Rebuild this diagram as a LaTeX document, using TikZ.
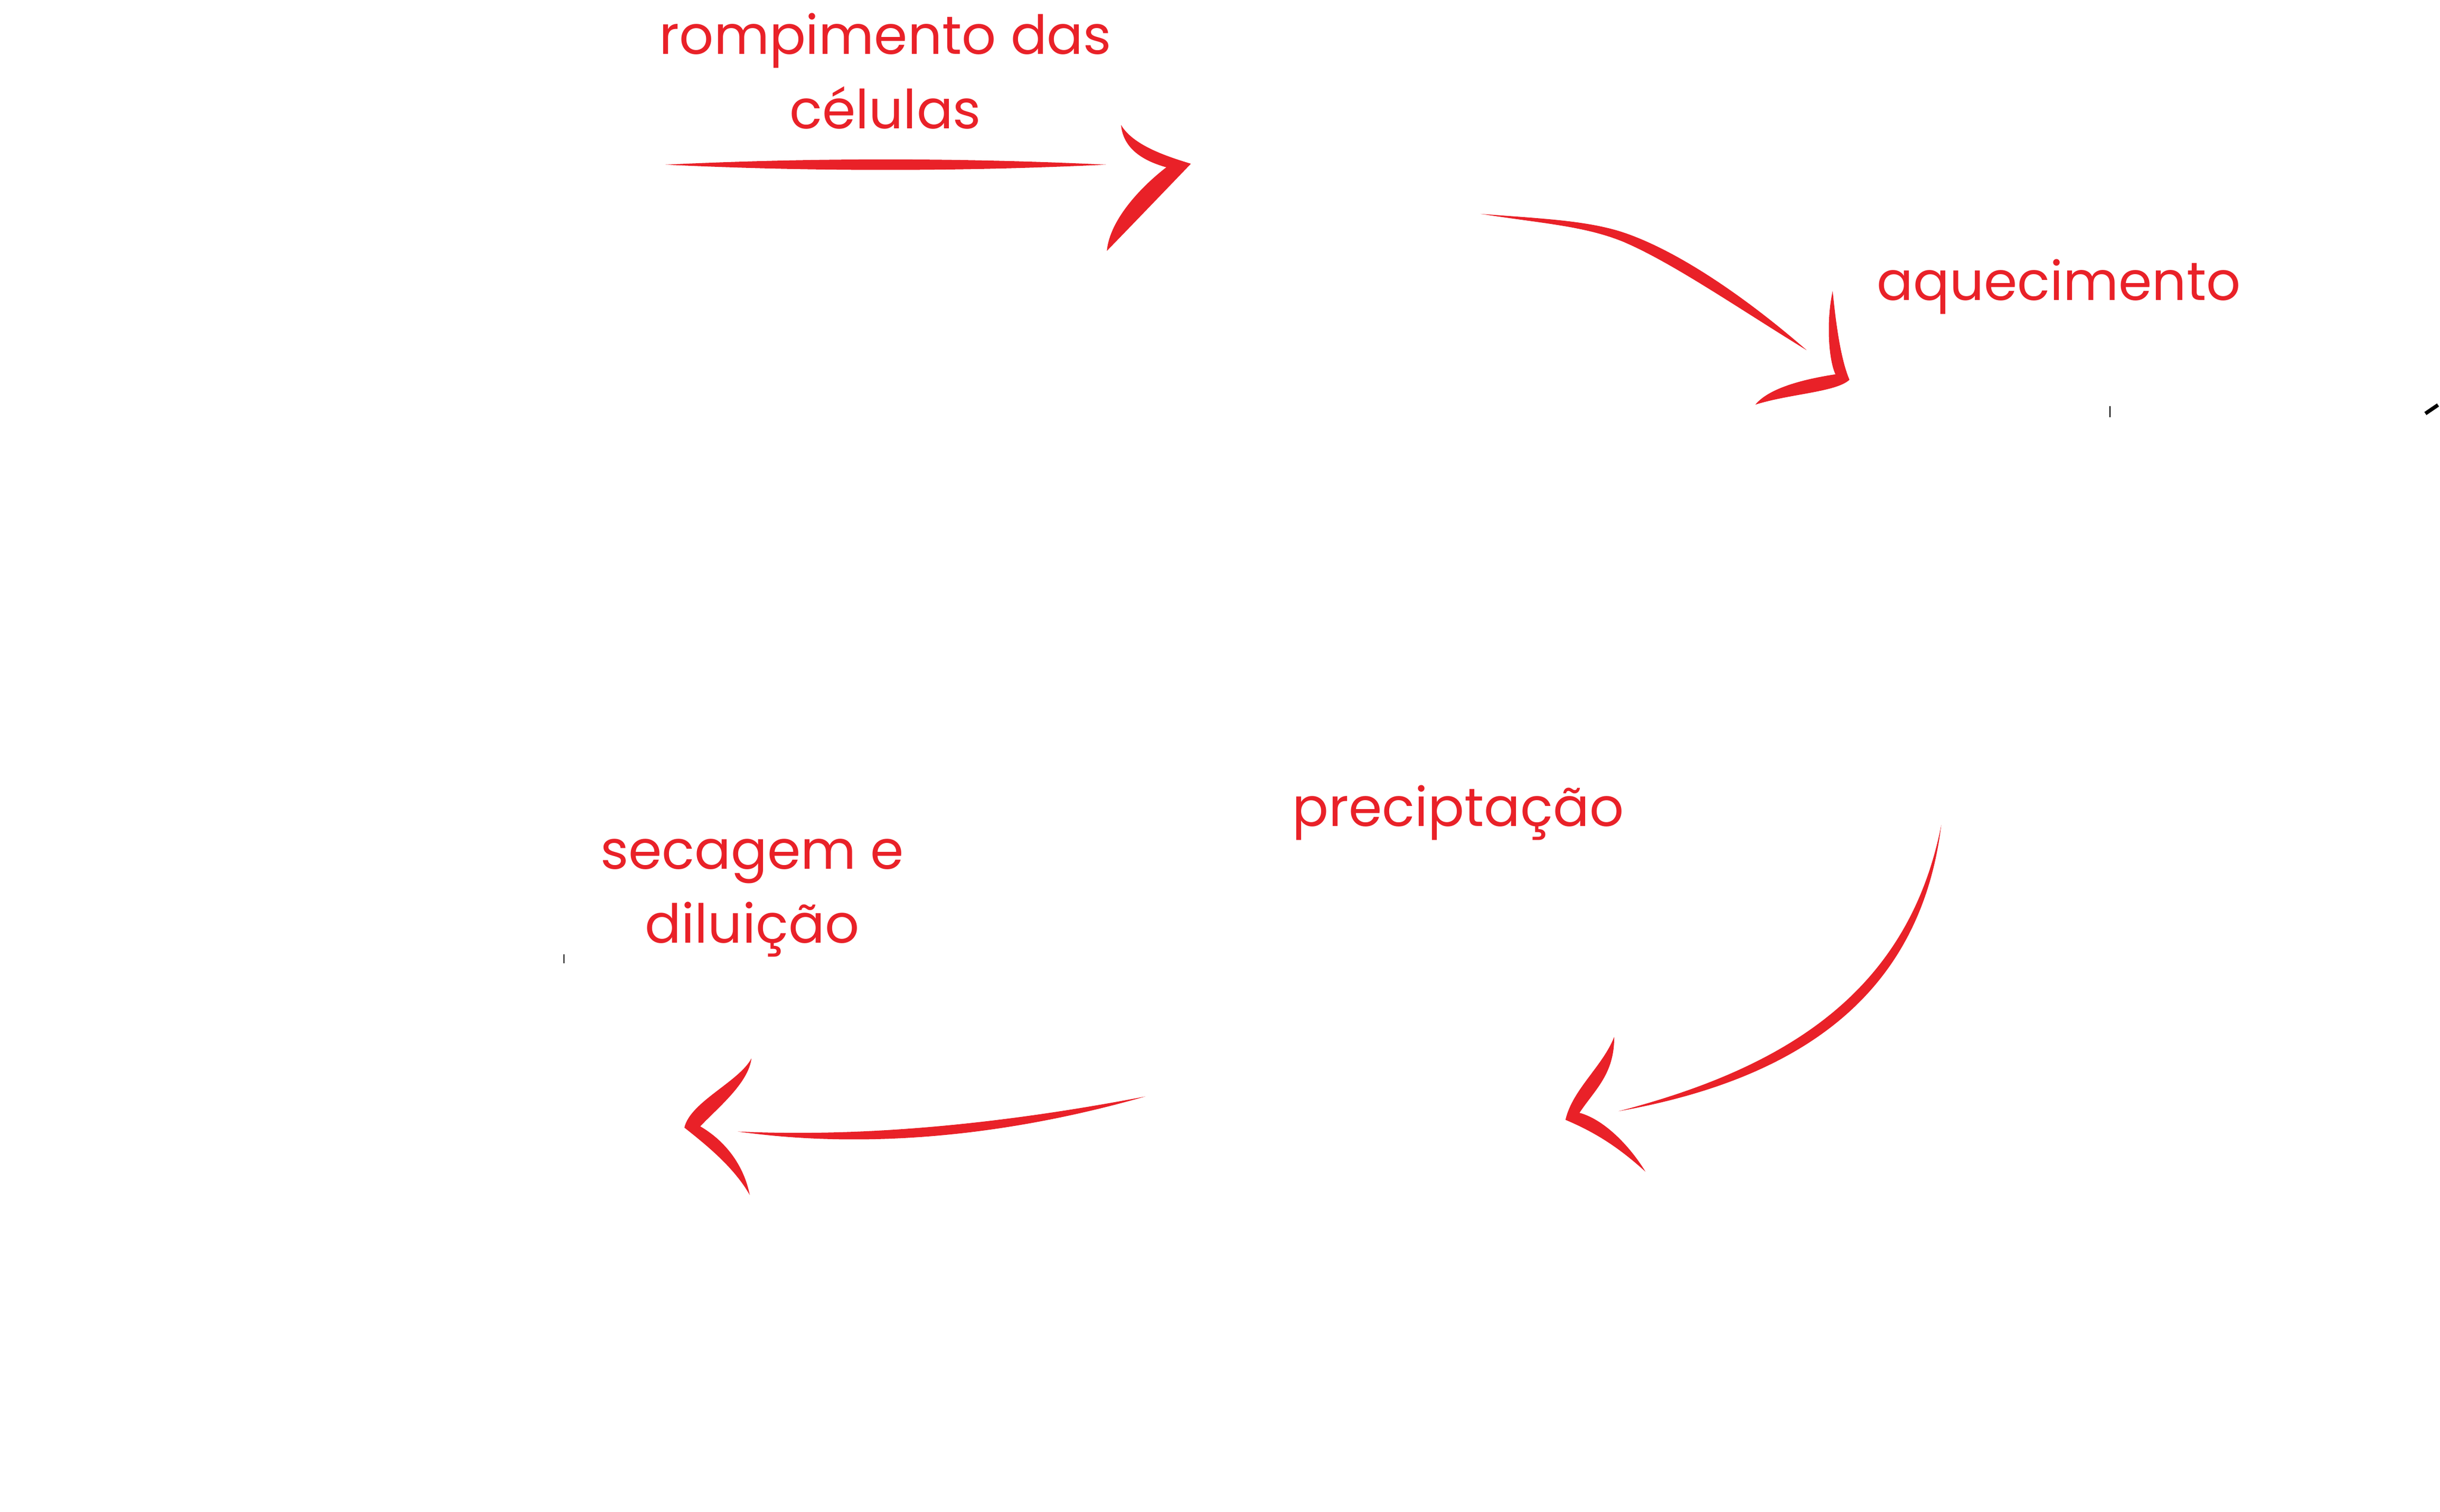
\documentclass[tikz,border=0pt]{standalone}
\usepackage{fontspec}
\setmainfont{Poppins}
\usetikzlibrary{positioning}
\definecolor{vermelho}{RGB}{233,33,40}
\tikzset{
  rotulo/.style={text=vermelho,font=\fontsize{29}{40}\selectfont,align=center,inner sep=0pt,anchor=base},
  seta/.style={fill=vermelho},
  risco/.style={draw=black,line width=0.6pt}
}

\begin{document}
\begin{tikzpicture}[x=0.02947cm,y=-0.02947cm]
           \useasboundingbox (0,0) rectangle (1568,971.2);
           % rotulos (base = ultima linha)
           \node[rotulo] (rompimento)   at (569,82.6)  {rompimento das\\células};
           \node[rotulo] (aquecimento)  at (1323,192.9) {aquecimento};
           \node[rotulo] (precipitacao) at (937,531)   {preciptação};
           \node[rotulo] (secagem)      at (483.4,606) {secagem e\\diluição};
           % pontas das setas
           \coordinate (s1_ini) at (427.6,105.8);
           \coordinate (s1_fim) at (710.8,105.8);
           \coordinate (p1)     at (765.3,105.2);
           \coordinate (s2_ini) at (951.5,137.4);
           \coordinate (s2_fim) at (1161,225);
           \coordinate (p2)     at (1188.5,244);
           \coordinate (s3_ini) at (1247.5,530);
           \coordinate (s3_fim) at (1040,714);
           \coordinate (p3)     at (1006,719.5);
           \coordinate (s4_ini) at (736,704.5);
           \coordinate (s4_fim) at (474,727);
           \coordinate (p4)     at (439.8,724.5);
           % seta 1
           \fill[seta] (s1_ini) .. controls (522,101.3) and (616,101.3) .. (s1_fim)
                       .. controls (616,110.3) and (522,110.3) .. (s1_ini);
           \fill[seta] (720.4,80.3) .. controls (728,93) and (748,100) .. (p1)
                       .. controls (753,118) and (729,143) .. (711.3,161.2)
                       .. controls (713,142) and (732,121) .. (749.5,107.5)
                       .. controls (739,104.5) and (722,98) .. cycle;
           % seta 2
           \fill[seta] (s2_ini) .. controls (990,140.5) and (1022,141.5) .. (1046.5,150.5)
                       .. controls (1081,163) and (1123,192) .. (s2_fim)
                       .. controls (1117,198) and (1075,169) .. (1043.5,155.5)
                       .. controls (1018,145) and (990,143.5) .. (s2_ini);
           \fill[seta] (1177.7,187) .. controls (1179.5,205) and (1182.5,230) .. (p2)
                       .. controls (1180,252) and (1150,253) .. (1128,260)
                       .. controls (1137,249) and (1160,243.5) .. (1179.5,240.5)
                       .. controls (1175,231) and (1173.5,206) .. cycle;
           % seta 3
           \fill[seta] (s3_ini) .. controls (1233.6,642.75) and (1152.1,694) .. (s3_fim)
                       .. controls (1147.9,686) and (1226.4,637.25) .. (s3_ini);
           \fill[seta] (1037.3,666.2) .. controls (1030,685) and (1010.5,700) .. (p3)
                       .. controls (1025,727.5) and (1040,737) .. (1057.4,752.8)
                       .. controls (1046.5,735) and (1030,719) .. (1015,715)
                       .. controls (1025,700) and (1037.5,690) .. cycle;
           % seta 4
           \fill[seta] (s4_ini) .. controls (650,721) and (560,731) .. (s4_fim)
                       .. controls (560,739) and (650,729) .. (s4_ini);
           \fill[seta] (482.9,680) .. controls (475,695) and (443.5,708) .. (p4)
                       .. controls (455,736.5) and (472,750.5) .. (481.8,767.8)
                       .. controls (478,748.5) and (466,733) .. (450,723.7)
                       .. controls (461,712) and (481,696) .. cycle;
           % riscos soltos
           \draw[risco] (1355.8,261) -- (1355.8,268);
           \draw[risco,line width=2pt] (1558.6,265.7) -- (1566.7,260.2);
           \draw[risco] (362.3,613) -- (362.3,619);
        \end{tikzpicture}
\end{document}
